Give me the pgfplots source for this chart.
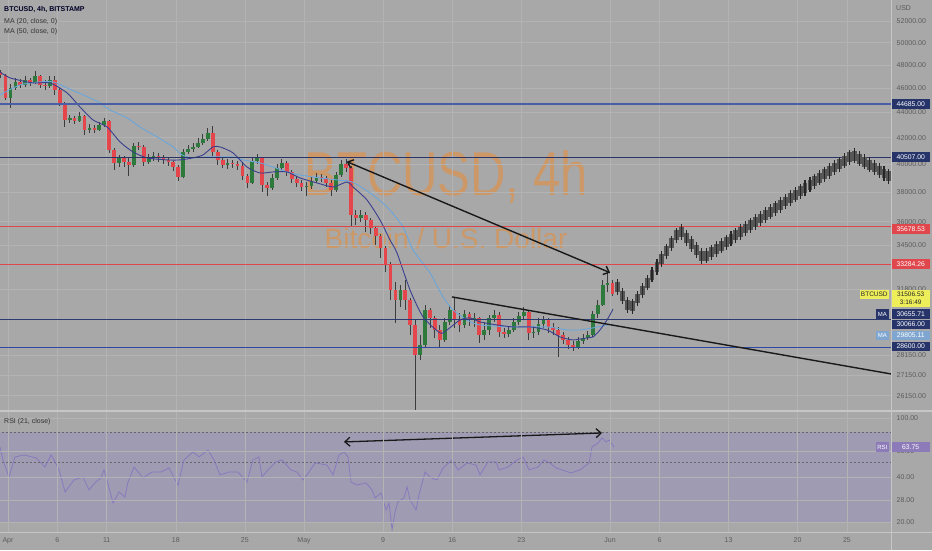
\documentclass[border=0pt]{standalone}
\usepackage{graphicx}
\usepackage{pgfplots}
\pgfplotsset{compat=1.18}
\usepackage{pgfplotstable}
\usepackage{fontspec}
\setmainfont{Liberation Sans}
\usetikzlibrary{arrows.meta}
\definecolor{bg}{HTML}{A8A8A8}
\definecolor{gridc}{HTML}{B3B3B3}
\definecolor{sepc}{HTML}{C6C6C6}
\definecolor{axtext}{HTML}{5C5C5C}
\definecolor{wick}{HTML}{3C3C3C}
\definecolor{cgreen}{HTML}{2E7A3C}
\definecolor{cred}{HTML}{E5464B}
\definecolor{maA}{HTML}{3A3F8E}
\definecolor{maB}{HTML}{6BA6DA}
\definecolor{navyl}{HTML}{26346A}
\definecolor{hlA}{HTML}{4A5EA8}
\definecolor{hlB}{HTML}{2A3466}
\definecolor{hred}{HTML}{E0474C}
\definecolor{hlC}{HTML}{2C3B70}
\definecolor{hlD}{HTML}{3049A0}
\definecolor{rsic}{HTML}{8878BE}
\definecolor{rsiband}{HTML}{9F9BB2}
\definecolor{yel}{HTML}{EEEE5A}
\definecolor{mablue}{HTML}{7FA6D0}
\definecolor{rsilab}{HTML}{8C7BB8}
\definecolor{wm}{HTML}{CC9868}
\definecolor{projb}{HTML}{565656}

\pgfplotstableread{
d o h l c
-0.75 47390 47564 46871 47129
-0.25 47129 47216 45014 45180
0.25 45180 46357 44358 46018
0.75 46018 46871 45849 46528
1.25 46528 46785 46018 46272
1.75 46272 47043 46103 46699
2.25 46699 46871 46187 46442
2.75 46442 47477 46357 47043
3.25 47043 47129 46018 46272
3.75 46272 46699 45849 46187
4.25 46187 47043 46018 46699
4.75 46699 47043 45430 45849
5.25 45849 46018 44521 44767
5.75 44767 44850 42838 43391
6.25 43391 43791 43154 43551
6.75 43551 43711 43074 43312
7.25 43312 44033 43233 43711
7.75 43711 43791 42213 42602
8.25 42602 43074 42369 42759
8.75 42759 42995 42369 42602
9.25 42602 43233 42524 42995
9.75 42995 43551 42838 43312
10.25 43312 43391 40841 41066
10.75 41066 41217 39586 40098
11.25 40098 40691 39805 40468
11.75 40468 40617 39805 40171
12.25 40171 40468 39152 39951
12.75 39951 41596 39805 41369
13.25 41369 41673 41066 41293
13.75 41293 41445 39878 40171
14.25 40171 40766 40024 40468
14.75 40468 40916 40245 40617
15.25 40617 40841 40171 40468
15.75 40468 40691 40024 40319
16.25 40319 40542 39878 40171
16.75 40171 40245 39513 39805
17.25 39805 39951 38794 39080
17.75 39080 41142 39009 40916
18.25 40916 41445 40766 41142
18.75 41142 41596 40916 41293
19.25 41293 41981 41217 41596
19.75 41596 42291 41445 41904
20.25 41904 42759 41750 42369
20.75 42369 42916 40617 40916
21.25 40916 41066 39951 40319
21.75 40319 40468 39732 39951
22.25 39951 40393 39659 40098
22.75 40098 40319 39732 40024
23.25 40024 40245 39586 39878
23.75 39878 40098 38865 39152
24.25 39152 39296 38299 38652
24.75 38652 40468 38581 40245
25.25 40245 40766 40024 40468
25.75 40468 40542 38018 38510
26.25 38510 38723 37740 38299
26.75 38299 39296 38158 39009
27.25 39009 40024 38865 39732
27.75 39732 40393 39586 40098
28.25 40098 40245 39152 39441
28.75 39441 39586 38652 38937
29.25 38937 39152 38369 38652
29.75 38652 38865 38088 38369
30.25 38369 38723 37740 38440
30.75 38440 39080 38228 38794
31.25 38794 39368 38652 39080
31.75 39080 39296 38723 39009
32.25 39009 39152 38369 38652
32.75 38652 38865 37740 38158
33.25 38158 39441 38018 39224
33.75 39224 40319 39080 40024
34.25 40024 40393 39441 39732
34.75 39732 39878 35716 36446
35.25 36446 36782 35782 36246
35.75 36246 36782 35981 36446
36.25 36446 36648 35325 36113
36.75 36113 36246 35196 35585
37.25 35585 35716 34492 35066
37.75 35066 35196 33679 34303
38.25 34303 34429 32824 33249
38.75 33249 33432 31179 31757
39.25 31757 32227 29890 31179
39.75 31179 32050 30781 31757
40.25 31757 32345 30612 31179
40.75 31179 31294 29238 29780
41.25 29780 30055 25300 28184
41.75 28184 29238 27926 28707
42.25 28707 30894 28549 30612
42.75 30612 30724 29617 30166
43.25 30166 30276 29078 29508
43.75 29508 29780 28602 28971
44.25 28971 30166 28865 29945
44.75 29945 30894 29780 30612
45.25 30612 31352 29617 30055
45.75 30055 30444 29400 29780
46.25 29780 30612 29617 30388
46.75 30388 30500 29725 30055
47.25 30055 30444 29671 30166
47.75 30166 30221 28812 29238
48.25 29238 29945 28971 29508
48.75 29508 30332 29238 30166
49.25 30166 30612 29945 30332
49.75 30332 30500 29131 29400
50.25 29400 29617 29078 29292
50.75 29292 29725 29131 29508
51.25 29508 30166 29400 29945
51.75 29945 30500 29780 30276
52.25 30276 30781 30055 30500
52.75 30500 30612 28971 29346
53.25 29346 29725 29078 29400
53.75 29400 30166 29238 29835
54.25 29835 30276 29617 30055
54.75 30055 30166 29346 29671
55.25 29671 29890 29238 29508
55.75 29508 29671 28081 29238
56.25 29238 29400 28760 28971
56.75 28971 29131 28497 28707
57.25 28707 28918 28392 28602
57.75 28602 29131 28497 28918
58.25 28918 29292 28760 29078
58.75 29078 29454 28971 29238
59.25 29238 30556 29131 30388
59.75 30388 31179 30166 30894
60.25 30894 32345 30837 32050
60.75 32050 32764 31640 32168
61.25 32168 32345 31409 31507
}\candles

\pgfplotstableread{
d p
61.75 31933
62.25 31409
62.75 30888
63.25 30815
63.75 31265
64.25 31722
64.75 32185
65.25 32656
65.75 33133
66.25 33617
66.75 34108
67.25 34600
67.75 35105
68.25 35332
68.75 34944
69.25 34562
69.75 34183
70.25 33803
70.75 33815
71.25 34027
71.75 34240
72.25 34454
72.75 34670
73.25 34887
73.75 35105
74.25 35325
74.75 35546
75.25 35762
75.75 35987
76.25 36213
76.75 36439
77.25 36667
77.75 36897
78.25 37128
78.75 37361
79.25 37595
79.75 37830
80.25 38067
80.75 38305
81.25 38538
81.75 38779
82.25 39022
82.75 39267
83.25 39514
83.75 39761
84.25 40010
84.75 40260
85.25 40512
85.75 40631
86.25 40408
86.75 40193
87.25 39980
87.75 39761
88.25 39550
88.75 39339
89.25 39123
}\proj

\pgfplotstableread{
d m
-0.81 47390
0.20 46871
2.53 46442
4.26 46442
5.98 45598
7.29 44440
8.61 43391
10.03 42838
11.35 41673
12.66 40916
14.08 40468
16.11 40319
17.43 40319
18.74 40468
19.76 40691
20.77 41293
21.48 41293
22.80 40841
24.21 39805
25.53 39368
26.85 39441
28.27 39441
29.58 39009
31.31 38652
32.93 38369
34.35 38723
34.95 38369
36.37 37464
37.69 36113
38.70 34810
39.41 33990
40.73 31757
42.05 30221
43.77 29346
44.48 29508
45.80 30055
46.81 30166
47.82 29945
49.54 29780
51.17 29671
52.89 29671
54.61 29508
55.93 29131
57.24 28971
58.66 29078
59.27 29131
59.98 29508
60.69 30055
61.30 30656
}\maa

\pgfplotstableread{
d m
-0.81 45430
1.22 46272
3.24 46528
4.56 46528
5.98 46018
8.31 45180
9.32 44767
10.33 44195
12.06 43551
13.37 42838
15.10 42058
16.72 41293
17.63 40691
18.74 40468
20.16 40542
21.48 40542
22.80 40542
23.81 40319
25.53 40098
26.85 39805
28.27 39441
29.58 39224
31.61 39009
33.33 38865
34.85 38723
36.68 37949
38.40 36984
40.02 35651
41.03 34177
42.76 32764
44.07 31352
45.09 30612
46.50 30055
47.82 29780
51.17 29671
54.61 29671
56.64 29508
57.95 29508
59.27 29617
60.69 29780
61.30 29805
}\mab

\pgfplotstableread{
d r
-0.81 63.8
-0.51 52.2
0.10 40.1
0.71 54.7
1.62 56.4
2.84 53.9
3.75 46.8
4.36 56.4
4.66 52.2
5.17 44.7
5.78 31.8
6.69 38.3
7.60 40.1
8.21 32.8
8.81 36.6
9.42 39.5
9.73 44.7
10.03 38.3
10.64 26.8
11.25 31.8
11.85 29.4
12.16 37.1
12.77 46.8
13.68 39.5
14.59 43.3
15.50 43.3
16.31 46.1
17.22 35.4
17.83 52.2
18.74 59.1
19.35 54.7
20.26 60.9
20.87 52.2
21.48 41.4
22.39 43.3
23.30 43.3
24.21 37.1
24.82 52.2
25.43 54.7
25.73 40.1
26.34 44.7
27.15 50.6
27.76 52.2
28.67 44.7
29.28 43.3
29.89 38.3
30.50 43.3
31.10 49.8
32.32 48.3
32.93 41.4
33.54 56.4
34.04 59.1
34.45 54.7
34.75 37.1
35.36 35.4
36.27 36.6
36.88 32.8
37.18 29.0
37.79 31.3
38.30 24.1
38.60 26.8
38.91 17.7
39.21 23.3
39.51 27.3
40.12 29.0
40.43 34.4
40.73 28.1
41.34 24.1
41.64 30.4
42.25 43.3
42.86 39.5
43.47 38.3
44.07 46.1
44.98 52.2
45.59 44.7
46.50 49.8
47.42 48.3
47.82 41.4
48.63 50.6
49.44 50.6
49.75 44.7
50.66 46.8
51.57 52.2
52.18 54.7
52.79 44.7
53.70 46.8
54.31 52.2
54.91 49.8
55.52 46.1
56.13 44.7
57.04 42.7
57.95 44.7
58.87 49.8
59.17 63.8
59.78 67.9
60.18 73.4
60.59 69.0
60.90 71.1
61.40 63.8
}\rsi

\tikzset{
 pl/.style={anchor=west, minimum width=38pt, minimum height=9.6pt, inner sep=0pt, font=\fontsize{6.8}{7}\selectfont, text=white},
 ml/.style={anchor=east, minimum width=13pt, minimum height=9.6pt, inner sep=0pt, font=\fontsize{6}{7}\selectfont, text=white},
}
\pgfplotsset{
 tvaxis/.style={scale only axis, width=891pt, xmin=-0.81, xmax=89.46,
   axis line style={draw=none}, tick style={draw=none},
   xtick={0,5,10,17,24,30,38,45,52,61,66,73,80,85},
   grid=major, major grid style={draw=gridc, line width=0.5pt},
   yticklabel pos=right,
   yticklabel style={anchor=west, inner sep=0pt, xshift=5.5pt, font=\fontsize{7}{8}\selectfont, text=axtext},
 },
 cndl/.style={draw=none, mark=none, forget plot},
}

\begin{document}
\begin{tikzpicture}[x=1pt,y=1pt]
\fill[bg] (0,0) rectangle (932,550);
\fill[rsiband] (0,28) rectangle (891,117.6);
\node[text=wm, font=\fontsize{62}{62}\selectfont] at (446,373) {\scalebox{0.79}[1]{BTCUSD, 4h}};
\node[text=wm, font=\fontsize{28}{28}\selectfont] at (446,312) {Bitcoin / U.S. Dollar};

\begin{axis}[tvaxis, at={(0pt,140pt)}, anchor=south west, height=410pt,
  ymode=log, ymin=25476, ymax=54087, xticklabels={},
  ytick={26150,27150,28150,31800,34500,36000,38000,40000,42000,44000,46000,48000,50000,52000},
  yticklabels={26150.00,27150.00,28150.00,31800.00,34500.00,36000.00,38000.00,40000.00,42000.00,44000.00,46000.00,48000.00,50000.00,52000.00}]
% candles: wicks
\addplot[cndl, error bars/.cd, y dir=both, y explicit, error mark=none, error bar style={draw=wick, line width=0.9pt}]
  table[x=d, y=c, y error plus expr={\thisrow{h}-\thisrow{c}}, y error minus expr={\thisrow{c}-\thisrow{l}}] {\candles};
% green bodies
\addplot[cndl, restrict expr to domain={\thisrow{c}-\thisrow{o}}{0:1000000}, error bars/.cd, y dir=both, y explicit, error mark=none, error bar style={draw=cgreen, line width=3.7pt}]
  table[x=d, y=o, y error plus expr={\thisrow{c}-\thisrow{o}}, y error minus expr={0}] {\candles};
% red bodies
\addplot[cndl, restrict expr to domain={\thisrow{o}-\thisrow{c}}{0.001:1000000}, error bars/.cd, y dir=both, y explicit, error mark=none, error bar style={draw=cred, line width=3.7pt}]
  table[x=d, y=o, y error plus expr={0}, y error minus expr={\thisrow{o}-\thisrow{c}}] {\candles};
% moving averages
\addplot[maB, line width=0.9pt, smooth, tension=0.4] table[x=d, y=m] {\mab};
\addplot[maA, line width=0.9pt, smooth, tension=0.4] table[x=d, y=m] {\maa};
% horizontal levels
\addplot[hlA, line width=1.2pt] coordinates {(-1,44685) (90,44685)};
\addplot[hlB, line width=0.9pt] coordinates {(-1,40507) (90,40507)};
\addplot[hred, line width=0.9pt] coordinates {(-1,35678.53) (90,35678.53)};
\addplot[hred, line width=0.9pt] coordinates {(-1,33284.26) (90,33284.26)};
\addplot[hlC, line width=0.9pt] coordinates {(-1,30066) (90,30066)};
\addplot[hlD, line width=0.9pt] coordinates {(-1,28600) (90,28600)};
% projection
\addplot[cndl, error bars/.cd, y dir=both, y fixed relative=0.009, error mark=none, error bar style={draw=projb, line width=4.9pt}] table[x=d, y=p] {\proj};
\addplot[cndl, error bars/.cd, y dir=both, y fixed relative=0.014, error mark=none, error bar style={draw=black!85, line width=1.1pt}] table[x=d, y=p] {\proj};
% trend lines
\addplot[black!90, line width=1.4pt, arrows={Straight Barb[length=5pt,width=9pt]-Straight Barb[length=5pt,width=9pt]}] coordinates {(34.32,40193) (61.0,32780)};
\addplot[black!90, line width=1.4pt] coordinates {(44.98,31352) (89.46,27217)};
\end{axis}

\begin{axis}[tvaxis, at={(0pt,18pt)}, anchor=south west, height=120pt, axis on top,
  ymode=log, ymin=17.1, ymax=109.7,
  xticklabels={Apr,6,11,18,25,May,9,16,23,Jun,6,13,20,25},
  xticklabel style={anchor=north, inner sep=0pt, yshift=-5pt, font=\fontsize{7}{8}\selectfont, text=axtext},
  ytick={20,28,40,60,100}, yticklabels={20.00,28.00,40.00,60.00,100.00}]
\addplot[gray!80!black, line width=0.7pt, dash pattern=on 2pt off 2pt] coordinates {(-1,80) (90,80)};
\addplot[gray!80!black, line width=0.7pt, dash pattern=on 2pt off 2pt] coordinates {(-1,50) (90,50)};
\addplot[gray!80!black, line width=0.7pt, dash pattern=on 2pt off 2pt] coordinates {(-1,20) (90,20)};
\addplot[rsic, line width=0.75pt] table[x=d, y=r] {\rsi};
\addplot[black!90, line width=1.3pt, arrows={Straight Barb[length=5pt,width=9pt]-Straight Barb[length=5pt,width=9pt]}] coordinates {(34.04,69.0) (60.18,79.3)};
\end{axis}

% separators
\fill[sepc] (0,138) rectangle (932,140.3);
\draw[sepc, line width=1pt] (0,18) -- (932,18);
\draw[sepc, line width=1pt] (891.3,0) -- (891.3,550);

% legend
\node[anchor=west, inner sep=0pt, font=\bfseries\fontsize{7}{8}\selectfont, text=black!85!blue] at (4,540) {BTCUSD, 4h, BITSTAMP};
\node[anchor=west, inner sep=0pt, font=\fontsize{7}{8}\selectfont, text=black!80] at (4,528) {MA (20, close, 0)};
\node[anchor=west, inner sep=0pt, font=\fontsize{7}{8}\selectfont, text=black!80] at (4,518) {MA (50, close, 0)};
\node[anchor=west, inner sep=0pt, font=\fontsize{7}{8}\selectfont, text=black!80] at (4,128) {RSI (21, close)};
\node[anchor=west, inner sep=0pt, font=\fontsize{7}{8}\selectfont, text=axtext] at (896,542) {USD};

% price labels
\node[pl, fill=navyl] at (891.5,446) {44685.00};
\node[pl, fill=navyl] at (891.5,393) {40507.00};
\node[pl, fill=hred] at (891.5,321) {35678.53};
\node[pl, fill=hred] at (891.5,286) {33284.26};
\node[anchor=east, minimum width=29pt, minimum height=9pt, inner sep=0pt, fill=yel, font=\fontsize{6.5}{7}\selectfont, text=black!85] at (889,255.5) {BTCUSD};
\node[anchor=west, minimum width=38pt, minimum height=17pt, inner sep=0pt, fill=yel, font=\fontsize{6.5}{8}\selectfont, text=black!85, align=center] at (891.5,251.5) {31506.53\\3:16:49};
\node[ml, fill=navyl] at (889,236) {MA};
\node[pl, fill=navyl] at (891.5,236) {30655.71};
\node[pl, fill=navyl] at (891.5,225.5) {30066.00};
\node[ml, fill=mablue] at (889,214.5) {MA};
\node[pl, fill=mablue] at (891.5,214.5) {29805.11};
\node[pl, fill=navyl] at (891.5,203.5) {28600.00};
\node[ml, fill=rsilab] at (889,103) {RSI};
\node[pl, fill=rsilab] at (891.5,103) {63.75};
\pgfresetboundingbox
\useasboundingbox (0,0) rectangle (932,550);
\end{tikzpicture}
\end{document}
